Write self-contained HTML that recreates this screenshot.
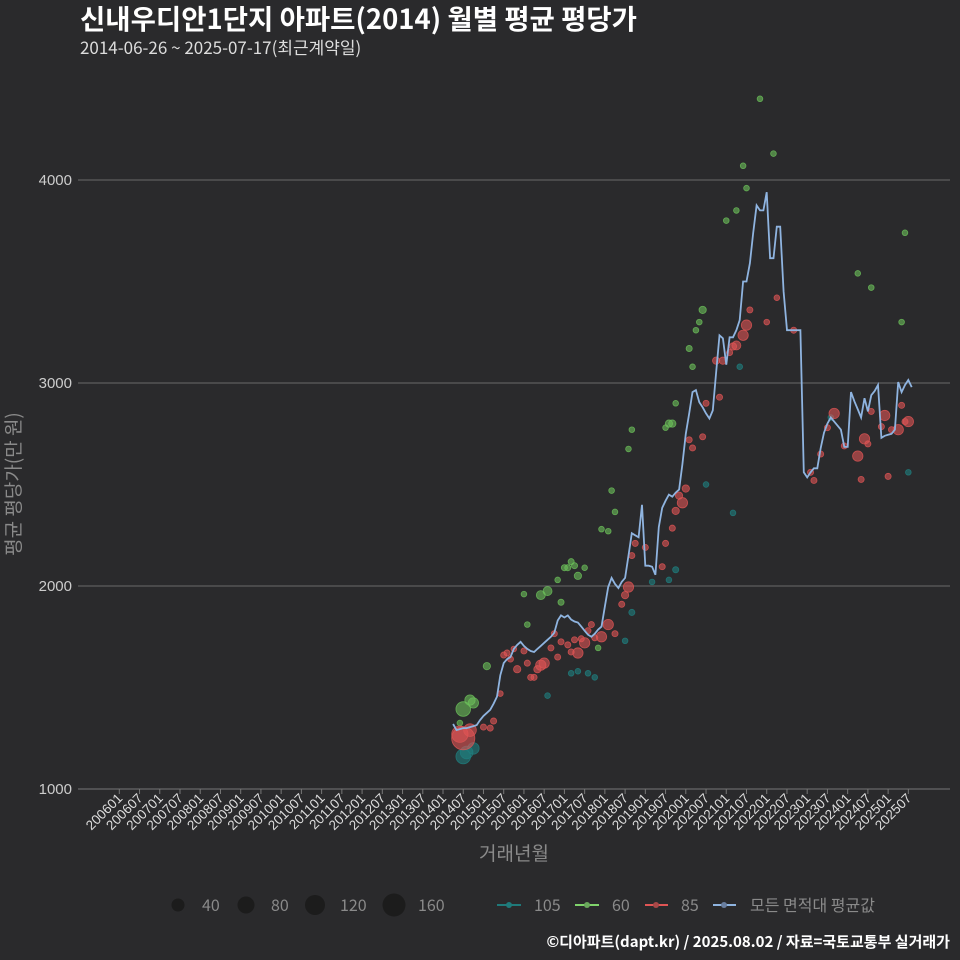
<!DOCTYPE html>
<html><head><meta charset="utf-8">
<style>
html,body{margin:0;padding:0;background:#2a2a2c;}
svg{display:block;font-family:"Liberation Sans","Noto Sans CJK KR",sans-serif;}
</style></head>
<body>
<svg id="chart" width="960" height="960" viewBox="0 0 960 960" xmlns="http://www.w3.org/2000/svg">
<rect width="960" height="960" fill="#2a2a2c"/>
<text x="80" y="29" fill="#ffffff" font-size="27.5" font-weight="bold" font-family="'Noto Sans CJK KR',sans-serif">신내우디안1단지 아파트(2014) 월별 평균 평당가</text>
<text x="80" y="54" fill="#dddddd" font-size="17" font-family="'Noto Sans CJK KR',sans-serif">2014-06-26 ~ 2025-07-17(최근계약일)</text>
<g id="grid"></g>
<g id="yticks"></g>
<g id="xaxis"></g>
<g id="points"></g>
<path id="avgline" fill="none" stroke="#8fb4e0" stroke-width="1.8"/>
<text x="514" y="860" fill="#8a8a8a" font-size="19" text-anchor="middle" font-family="'Noto Sans CJK KR',sans-serif">거래년월</text>
<text transform="translate(20,484) rotate(-90)" fill="#8a8a8a" font-size="19" text-anchor="middle" font-family="'Noto Sans CJK KR',sans-serif">평균 평당가(만 원)</text>
<g id="legend" font-size="16" fill="#8a8a8a" font-family="'Noto Sans CJK KR',sans-serif">
 <circle cx="178" cy="905" r="6.5" fill="#1c1c1c"/>
 <text x="202" y="911" fill="#8a8a8a">40</text>
 <circle cx="246" cy="905" r="8.5" fill="#1c1c1c"/>
 <text x="271" y="911" fill="#8a8a8a">80</text>
 <circle cx="315" cy="905" r="10" fill="#1c1c1c"/>
 <text x="340" y="911" fill="#8a8a8a">120</text>
 <circle cx="394" cy="905" r="11.5" fill="#1c1c1c"/>
 <text x="418" y="911" fill="#8a8a8a">160</text>
 <g><line x1="497" y1="905" x2="521" y2="905" stroke="#1f7a7a" stroke-width="2"/><circle cx="509" cy="905" r="3" fill="#1f7a7a"/><text x="534" y="911" fill="#8a8a8a">105</text></g>
 <g><line x1="575" y1="905" x2="599" y2="905" stroke="#7fd36b" stroke-width="2"/><circle cx="587" cy="905" r="3" fill="#6aa85c"/><text x="612" y="911" fill="#8a8a8a">60</text></g>
 <g><line x1="645" y1="905" x2="668" y2="905" stroke="#e05555" stroke-width="2"/><circle cx="656" cy="905" r="3" fill="#a84848"/><text x="681" y="911" fill="#8a8a8a">85</text></g>
 <g><line x1="713" y1="905" x2="736" y2="905" stroke="#8fb4e0" stroke-width="2"/><circle cx="724" cy="905" r="3" fill="#6a7fa0"/><text x="750" y="911" fill="#8a8a8a">모든 면적대 평균값</text></g>
</g>
<text x="950" y="947" fill="#ffffff" font-size="15" font-weight="bold" text-anchor="end" font-family="'Noto Sans CJK KR',sans-serif">©디아파트(dapt.kr) / 2025.08.02 / 자료=국토교통부 실거래가</text>
</svg>
<script>
const tickLabels = ["200601","200607","200701","200707","200801","200807","200901","200907","201001","201007","201101","201107","201201","201207","201301","201307","201401","201407","201501","201507","201601","201607","201701","201707","201801","201807","201901","201907","202001","202007","202101","202107","202201","202207","202301","202307","202401","202407","202501","202507"];
const yTicks = [1000,2000,3000,4000];
const lineStart = 99;
const avgValues = [1320,1290,1295,1300,1300,1305,1310,1315,1340,1360,1375,1390,1420,1455,1560,1620,1640,1650,1690,1710,1725,1705,1690,1680,1675,1690,1705,1720,1735,1750,1770,1830,1855,1845,1855,1835,1825,1820,1800,1780,1760,1750,1765,1785,1800,1900,1995,2040,2010,1990,2020,2040,2150,2260,2250,2240,2400,2100,2100,2095,2055,2290,2385,2420,2450,2440,2460,2475,2600,2750,2850,2955,2965,2905,2880,2850,2825,2865,3050,3235,3220,3090,3225,3225,3260,3310,3500,3500,3590,3740,3875,3850,3850,3940,3615,3615,3770,3770,3450,3260,3260,3260,3260,3260,2560,2535,2560,2580,2580,2680,2755,2800,2830,2810,2790,2770,2685,2685,2955,2910,2870,2830,2925,2860,2940,2960,2990,2730,2740,2745,2750,2770,3005,2955,2990,3015,2980];
const g60Months = [47,48,44,46,35,33,34,36,39,37,31,28,26,21,32,22,10,3,5,6,2,43,91,95,86,87,84,81,74,73,72,70,71,66,64,65,63,134,120,124,133,53,52];
const g60Values = [2470,2365,2280,2270,2120,2090,2090,2100,2090,2050,2030,1975,1955,1960,1920,1810,1605,1394,1438,1424,1325,1695,4400,4130,4070,3960,3850,3800,3360,3300,3260,3170,3080,2900,2800,2800,2780,3740,3540,3470,3300,2770,2675];
const g60Counts = [12,12,12,12,14,14,14,14,12,20,12,30,30,12,14,12,20,80,40,40,12,12,12,12,12,12,12,12,20,12,12,14,12,12,20,20,12,12,12,12,12,12,12];
const g105Months = [3,4,6,28,35,37,40,42,51,53,59,64,66,85,75,135,112,83];
const g105Values = [1160,1180,1200,1460,1570,1580,1570,1550,1730,1870,2020,2030,2080,3080,2500,2560,2830,2360];
const g105Counts = [80,60,50,12,12,12,12,12,12,14,12,12,14,12,12,12,12,12];
const g85Months = [3,5,2,9,11,12,14,15,16,17,18,19,21,22,23,24,25,26,27,29,30,31,32,34,35,36,37,38,39,40,41,42,44,46,48,50,51,52,53,54,57,62,63,65,66,68,67,69,70,71,74,75,79,78,80,82,83,84,86,87,88,93,96,101,106,107,109,111,113,116,120,121,122,123,124,127,128,129,130,132,133,134,135];
const g85Values = [1250,1290,1270,1305,1300,1335,1470,1660,1670,1640,1690,1590,1680,1620,1550,1550,1590,1610,1620,1695,1765,1650,1725,1710,1675,1735,1670,1740,1720,1780,1810,1745,1750,1810,1765,1910,1955,1995,2150,2210,2190,2095,2210,2285,2370,2410,2445,2480,2720,2680,2735,2900,2930,3110,3110,3150,3180,3185,3235,3285,3360,3300,3420,3260,2560,2520,2650,2780,2850,2690,2640,2525,2725,2700,2860,2785,2840,2540,2770,2770,2890,2810,2810];
const g85Counts = [200,60,100,14,14,14,12,14,14,14,12,20,14,14,14,14,20,40,40,14,14,14,14,14,14,14,40,14,40,14,14,14,40,40,14,14,20,40,14,14,14,14,14,14,20,40,20,20,14,14,14,14,14,20,20,14,20,30,40,40,14,12,12,14,14,14,14,14,40,14,40,14,40,14,14,14,40,14,14,40,14,14,40];

const NS = "http://www.w3.org/2000/svg";
const x = m => 119.3 + m * 3.372;
const y = v => 789 - (v - 1000) * 0.203;
const rad = n => 0.82 * Math.sqrt(n);

const grid = document.getElementById('grid');
const yg = document.getElementById('yticks');
yTicks.forEach(t => {
  if (t > 1000) {
    const l = document.createElementNS(NS, 'line');
    
    
    l.setAttribute('x1', 78); l.setAttribute('x2', 950);
    l.setAttribute('y1', y(t)); l.setAttribute('y2', y(t));
    l.setAttribute('stroke', '#6a6a6a'); l.setAttribute('stroke-width', '1');
    grid.appendChild(l);
  }
  const tx = document.createElementNS(NS, 'text');
  
  
  tx.setAttribute('x', 72); tx.setAttribute('y', y(t) + 5);
  tx.setAttribute('text-anchor', 'end'); tx.setAttribute('fill', '#cccccc');
  tx.setAttribute('font-size', '15');
  tx.textContent = t;
  yg.appendChild(tx);
});

const xg = document.getElementById('xaxis');
const axis = document.createElementNS(NS, 'line');


axis.setAttribute('x1', 78); axis.setAttribute('x2', 950);
axis.setAttribute('y1', 789); axis.setAttribute('y2', 789);
axis.setAttribute('stroke', '#777'); axis.setAttribute('stroke-width', '1');
xg.appendChild(axis);
tickLabels.forEach((lab, i) => {
  const px = x(i * 6);
  const tk = document.createElementNS(NS, 'line');
  
  
  tk.setAttribute('x1', px); tk.setAttribute('x2', px);
  tk.setAttribute('y1', 789); tk.setAttribute('y2', 794);
  tk.setAttribute('stroke', '#777');
  xg.appendChild(tk);
  const tx = document.createElementNS(NS, 'text');
  
  
  tx.setAttribute('transform', 'translate(' + (px + 4) + ',799) rotate(-45)');
  tx.setAttribute('text-anchor', 'end'); tx.setAttribute('fill', '#dddddd');
  tx.setAttribute('font-size', '13.5');
  tx.textContent = lab;
  xg.appendChild(tx);
});

const pg = document.getElementById('points');
function drawSeries(months, values, counts, color, name) {
  months.forEach((m, i) => {
    const c = document.createElementNS(NS, 'circle');
    
    
    c.setAttribute('cx', x(lineStart + m));
    c.setAttribute('cy', y(values[i]));
    c.setAttribute('r', rad(counts[i]));
    c.setAttribute('fill', color);
    c.setAttribute('fill-opacity', '0.6');
    c.setAttribute('stroke', color);
    c.setAttribute('stroke-opacity', '0.8');
    c.setAttribute('stroke-width', '0.8');
    pg.appendChild(c);
  });
}
drawSeries(g105Months, g105Values, g105Counts, '#1f8080', 'point-105');
drawSeries(g60Months, g60Values, g60Counts, '#6cc05a', 'point-60');
drawSeries(g85Months, g85Values, g85Counts, '#e05555', 'point-85');

let d = '';
avgValues.forEach((v, i) => { d += (i ? 'L' : 'M') + x(lineStart + i).toFixed(1) + ',' + y(v).toFixed(1); });
document.getElementById('avgline').setAttribute('d', d);
</script>
</body></html>
